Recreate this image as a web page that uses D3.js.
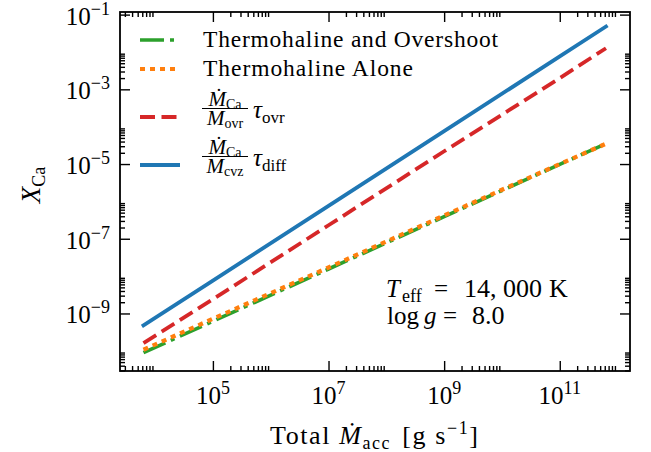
<!DOCTYPE html>
<html><head><meta charset="utf-8">
<script src="https://cdn.jsdelivr.net/npm/d3@7"></script>
<style>
body{margin:0;background:#fff}
text{font-family:"Liberation Serif","Times New Roman",serif;fill:#000}
</style>
</head><body>
<svg id="c" width="651" height="452"></svg>
<script>
// ---- data ----
const mdot        = [6.3e3, 1e5, 1e7, 1e9, 1e11, 6.3e11];
const thermOvr    = [8.9e-11, 6.2e-10, 1.55e-8, 3.9e-7, 9.8e-6, 3.5e-5];
const thermAlone  = [1.07e-10, 7.2e-10, 1.7e-8, 4.2e-7, 1.0e-5, 3.5e-5];
const ovrEst      = [1.6e-10, 2.4e-9, 2.3e-7, 2.2e-5, 2.0e-3, 1.26e-2];
const diffEst     = [4.8e-10, 7.6e-9, 7.6e-7, 7.6e-5, 7.6e-3, 4.8e-2];
const xMajor      = [1e5, 1e7, 1e9, 1e11];
const xMajorExp   = ["5", "7", "9", "11"];
const yMajor      = [1e-1, 1e-3, 1e-5, 1e-7, 1e-9];
const yMajorExp   = ["−1", "−3", "−5", "−7", "−9"];
const minorSubs   = [2, 3, 4, 5, 6, 7, 8, 9];
const xMinorDec   = [1e3, 1e5, 1e7, 1e9, 1e11];
const yMinorDec   = [1e-11, 1e-9, 1e-7, 1e-5, 1e-3, 1e-1];
const xDomain     = [Math.pow(10, 3.393), Math.pow(10, 12.215)];
const yDomain     = [Math.pow(10, -10.54), Math.pow(10, -0.93)];

const L = 120, R = 630, T = 12, B = 371;
const svg = d3.select("#c");
const x = d3.scaleLog().domain(xDomain).range([L, R]);
const y = d3.scaleLog().domain(yDomain).range([B, T]);

const series = [
  {vals: thermOvr,   color: "#2ca02c", dash: "24,6,4,6", width: 3.6},
  {vals: thermAlone, color: "#ff7f0e", dash: "5,5",      width: 4.2},
  {vals: ovrEst,     color: "#d62728", dash: "15,6.5",   width: 3.8},
  {vals: diffEst,    color: "#1f77b4", dash: null,       width: 3.8}
];
const line = d3.line().x(d => x(d[0])).y(d => y(d[1]));
series.forEach(s => {
  svg.append("path")
    .datum(mdot.map((m, i) => [m, s.vals[i]]))
    .attr("d", line).attr("fill", "none")
    .attr("stroke", s.color).attr("stroke-width", s.width)
    .attr("stroke-dasharray", s.dash)
    .attr("stroke-linecap", s.dash ? "butt" : "square");
});

// ---- ticks ----
const inX = v => v >= xDomain[0] && v <= xDomain[1];
const inY = v => v >= yDomain[0] && v <= yDomain[1];
const xMinor = xMinorDec.flatMap(d => minorSubs.map(s => s * d)).filter(inX);
const yMinor = yMinorDec.flatMap(d => minorSubs.map(s => s * d)).filter(inY);

function ax(gen, tr, vals, size) {
  const g = svg.append("g").attr("transform", tr)
    .call(gen.tickValues(vals).tickSize(size).tickFormat(""));
  g.select(".domain").remove();
  g.selectAll(".tick line").attr("stroke", "#000").attr("stroke-width", 1.4);
  return g;
}
ax(d3.axisBottom(x), `translate(0,${B})`, xMajor, -10);
ax(d3.axisBottom(x), `translate(0,${B})`, xMinor, -5);
ax(d3.axisTop(x), `translate(0,${T})`, xMajor, -10);
ax(d3.axisTop(x), `translate(0,${T})`, xMinor, -5);
ax(d3.axisLeft(y), `translate(${L},0)`, yMajor, -10);
ax(d3.axisLeft(y), `translate(${L},0)`, yMinor, -5);
ax(d3.axisRight(y), `translate(${R},0)`, yMajor, -10);
ax(d3.axisRight(y), `translate(${R},0)`, yMinor, -5);

svg.append("rect").attr("x", L).attr("y", T).attr("width", R - L).attr("height", B - T)
  .attr("fill", "none").attr("stroke", "#000").attr("stroke-width", 1.8);

// ---- rich text helper ----
function rich(parent, px, py, parts, anchor, size) {
  const t = parent.append("text").attr("x", px).attr("y", py)
    .attr("text-anchor", anchor || "start").attr("font-size", size);
  let cur = 0;
  parts.forEach(p => {
    const sh = p.shift || 0;
    const ts = t.append("tspan").text(p.t).attr("dy", sh - cur);
    cur = sh;
    if (p.size) ts.attr("font-size", p.size);
    if (p.it) ts.attr("font-style", "italic");
    if (p.dx) ts.attr("dx", p.dx);
  });
  return t;
}
function word(parent, px, py, str, size, it) {
  const t = parent.append("text").attr("x", px).attr("y", py).attr("font-size", size).text(str);
  if (it) t.attr("font-style", "italic");
  return t;
}

// ---- tick labels ----
xMajor.forEach((v, i) => {
  rich(svg, x(v), 404, [{t: "10"}, {t: xMajorExp[i], size: 18, shift: -10}], "middle", 25);
});
yMajor.forEach((v, i) => {
  rich(svg, 110, y(v) + 10, [{t: "10"}, {t: yMajorExp[i], size: 18, shift: -10}], "end", 25);
});

// ---- axis labels ----
rich(svg, 374, 444, [
  {t: "Total "}, {t: "Ṁ", it: true}, {t: "acc", size: 18, shift: 5},
  {t: " [g s", dx: 3}, {t: "−1", size: 18, shift: -10}, {t: "]", shift: 0}
], "middle", 26).attr("textLength", 208).attr("lengthAdjust", "spacing");
rich(svg.append("g").attr("transform", "translate(40,185) rotate(-90)"), 0, 0, [
  {t: "X", it: true}, {t: "Ca", size: 18, shift: 5}
], "middle", 27);

// ---- annotation (math text, placed piece by piece) ----
word(svg, 386, 297, "T", 25, true);
word(svg, 402, 302, "eff", 18, false);
word(svg, 434, 297, "=", 25, false);
word(svg, 464, 297, "14, 000", 26, false);
word(svg, 549, 297, "K", 26, false);
word(svg, 387, 324, "log", 25, false);
word(svg, 424, 324, "g", 25, true);
word(svg, 443, 324, "=", 25, false);
word(svg, 472, 324, "8.0", 26, false);

// ---- legend ----
const lg = svg.append("g");
const lx0 = 140, lx1 = 180, tx = 203;
const rows = [40, 69, 117, 165];
series.forEach((s, i) => {
  lg.append("line").attr("x1", lx0).attr("x2", lx1).attr("y1", rows[i]).attr("y2", rows[i])
    .attr("stroke", s.color).attr("stroke-width", s.width)
    .attr("stroke-dasharray", s.dash);
});
lg.append("text").attr("x", tx).attr("y", 47).attr("font-size", 23.5)
  .attr("textLength", 295).attr("lengthAdjust", "spacing").text("Thermohaline and Overshoot");
lg.append("text").attr("x", tx).attr("y", 76).attr("font-size", 23.5)
  .attr("textLength", 210).attr("lengthAdjust", "spacing").text("Thermohaline Alone");

function frac(yBar, denomSub, tauSub) {
  const cx = 225;
  rich(lg, cx, yBar - 3, [{t: "Ṁ", it: true}, {t: "Ca", size: 14, shift: 3}], "middle", 21);
  lg.append("line").attr("x1", 202).attr("x2", 248).attr("y1", yBar).attr("y2", yBar)
    .attr("stroke", "#000").attr("stroke-width", 1);
  rich(lg, cx, yBar + 16, [{t: "M", it: true}, {t: denomSub, size: 14, shift: 3}], "middle", 21);
  rich(lg, 253, yBar + 9, [{t: "τ", it: true}, {t: tauSub, size: 17, shift: 5}], "start", 25);
}
frac(108.5, "ovr", "ovr");
frac(156.5, "cvz", "diff");
</script>
</body></html>
